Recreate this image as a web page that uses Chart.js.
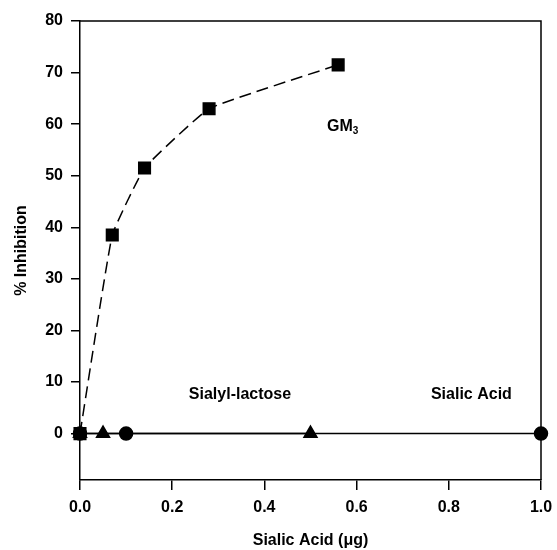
<!DOCTYPE html>
<html>
<head>
<meta charset="utf-8">
<script src="https://cdn.jsdelivr.net/npm/chart.js@4"></script>
<style>
  html, body { margin: 0; padding: 0; background: #fff; }
  #wrap { width: 557px; height: 550px; }
</style>
</head>
<body>
<div id="wrap"><canvas id="grafico" width="557" height="550"></canvas></div>
<script>
// datos
const gm3X = [0, 0.07, 0.14, 0.28, 0.56];
const gm3Y = [0, 38.5, 51.5, 63, 71.5];
const lactoseX = [0, 0.05, 0.5];
const lactoseY = [0, 0, 0];
const acidX = [0, 0.1, 1.0];
const acidY = [0, 0, 0];
const xTicks = [0, 0.2, 0.4, 0.6, 0.8, 1.0];
const yTicks = [0, 10, 20, 30, 40, 50, 60, 70, 80];

const FONT = '"Liberation Sans", Arial, sans-serif';
const pts = (xs, ys) => xs.map((x, i) => ({ x: x, y: ys[i] }));

// etiquetas dentro del grafico
const etiquetas = {
  id: 'etiquetas',
  afterDatasetsDraw(chart) {
    const { ctx, scales } = chart;
    const sx = scales.x, sy = scales.y;
    ctx.save();
    ctx.fillStyle = '#000';
    ctx.textBaseline = 'middle';
    ctx.font = 'bold 16px ' + FONT;
    // GM3 con subindice
    let x = sx.getPixelForValue(0.536), y = sy.getPixelForValue(59.6);
    ctx.textAlign = 'left';
    ctx.fillText('GM', x, y);
    const w = ctx.measureText('GM').width;
    ctx.font = 'bold 10px ' + FONT;
    ctx.fillText('3', x + w, y + 5);
    ctx.font = 'bold 16px ' + FONT;
    ctx.textAlign = 'center';
    ctx.fillText('Sialyl-lactose', sx.getPixelForValue(0.347), sy.getPixelForValue(7.6));
    ctx.fillText('Sialic Acid', sx.getPixelForValue(0.849), sy.getPixelForValue(7.6));
    // marco superior y derecho
    const a = chart.chartArea;
    ctx.strokeStyle = '#000';
    ctx.lineWidth = 1.5;
    ctx.beginPath();
    ctx.moveTo(a.left, a.top);
    ctx.lineTo(a.right, a.top);
    ctx.lineTo(a.right, a.bottom);
    ctx.stroke();
    ctx.restore();
  }
};

new Chart(document.getElementById('grafico').getContext('2d'), {
  type: 'scatter',
  data: {
    datasets: [
      {
        label: 'Sialic Acid',
        data: pts(acidX, acidY),
        showLine: true,
        borderColor: '#000',
        backgroundColor: '#000',
        borderWidth: 1.5,
        pointStyle: 'circle',
        pointRadius: 6.5,
        clip: false,
        order: 3
      },
      {
        label: 'Sialyl-lactose',
        data: pts(lactoseX, lactoseY),
        showLine: true,
        borderColor: '#000',
        backgroundColor: '#000',
        borderWidth: 1.5,
        pointStyle: 'triangle',
        pointRadius: 7.5,
        clip: false,
        order: 2
      },
      {
        label: 'GM3',
        data: pts(gm3X, gm3Y),
        showLine: true,
        borderColor: '#000',
        backgroundColor: '#000',
        borderWidth: 1.5,
        borderDash: [12, 6],
        tension: 0.1,
        pointStyle: 'rect',
        pointRadius: 8.2,
        clip: false,
        order: 1
      }
    ]
  },
  options: {
    responsive: false,
    animation: false,
    layout: { padding: { top: 21, right: 16, left: 0, bottom: 0 } },
    plugins: { legend: { display: false }, tooltip: { enabled: false } },
    scales: {
      x: {
        type: 'linear',
        min: 0,
        max: 1,
        afterBuildTicks: s => { s.ticks = xTicks.map(v => ({ value: v })); },
        afterFit: s => { s.height = 70; s.paddingRight = 0; s.paddingLeft = 0; },
        grid: { display: true, drawOnChartArea: false, drawTicks: true, tickLength: 10, color: '#000', lineWidth: 1.5 },
        border: { display: true, color: '#000', width: 1.5 },
        ticks: {
          color: '#000',
          padding: 8,
          font: { family: FONT, size: 16, weight: 'bold' },
          callback: v => v.toFixed(1)
        },
        title: {
          display: true,
          text: 'Sialic Acid (\u03bcg)',
          color: '#000',
          padding: { top: 0, bottom: 0 },
          font: { family: FONT, size: 16, weight: 'bold' }
        }
      },
      y: {
        type: 'linear',
        min: -9,
        max: 80,
        afterBuildTicks: s => { s.ticks = yTicks.map(v => ({ value: v })); },
        afterFit: s => { s.width = 80; s.paddingTop = 0; s.paddingBottom = 0; },
        grid: { display: true, drawOnChartArea: false, drawTicks: true, tickLength: 9, color: '#000', lineWidth: 1.5 },
        border: { display: true, color: '#000', width: 1.5 },
        ticks: {
          color: '#000',
          padding: 8,
          font: { family: FONT, size: 16, weight: 'bold' }
        },
        title: {
          display: true,
          text: '% Inhibition',
          color: '#000',
          padding: { top: 12, bottom: 0 },
          font: { family: FONT, size: 16, weight: 'bold' }
        }
      }
    }
  },
  plugins: [etiquetas]
});
</script>
</body>
</html>
